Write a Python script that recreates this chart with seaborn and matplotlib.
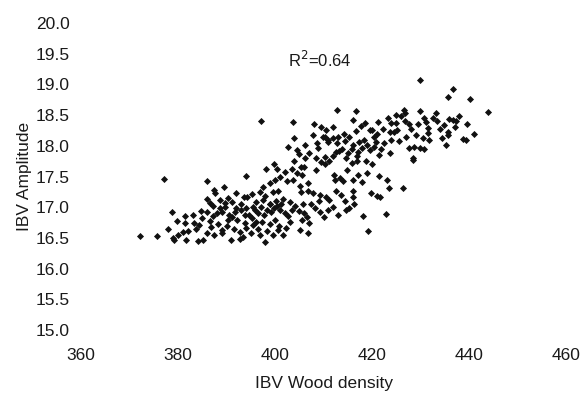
import matplotlib
matplotlib.use("Agg")
import matplotlib.pyplot as plt
import seaborn as sns
import pandas as pd

wood_density = [
    377.1, 385.9, 389.4, 394.1, 387.7, 387.5, 392.0, 393.5, 385.9, 386.5, 389.6, 391.1,
    387.3, 388.6, 389.6, 391.9, 394.1, 395.5,
    378.8, 381.4, 384.7, 379.7, 381.5, 383.3, 384.4, 386.5, 387.2, 378.0, 383.8, 381.0,
    372.1, 375.6, 378.9, 379.1, 381.6, 384.1, 385.2, 385.9, 387.4, 389.0, 389.1, 391.0,
    392.7, 393.3, 392.7, 394.1, 392.1, 391.2, 390.2,
    398.1, 399.7, 400.4, 405.4, 404.6, 405.6, 408.5, 409.5, 411.2, 410.4, 415.8, 416.8,
    418.8, 412.2, 413.4, 414.0, 412.4, 417.0, 418.0, 402.5, 403.8, 406.8, 405.2, 398.9,
    397.5, 399.5, 400.6, 405.3, 406.8, 407.8, 409.3, 410.6, 412.6, 413.6, 416.0, 416.0,
    416.3, 419.8, 395.2, 394.3, 401.6, 403.0, 405.7, 411.2,
    397.5, 398.9, 399.8, 398.4, 400.5, 399.2, 397.2, 401.0, 396.0,
    395.8, 394.7, 395.3, 402.0, 402.7, 405.0, 406.0, 406.6, 409.2, 410.0, 410.9, 414.6,
    415.3, 418.1, 396.0, 397.4, 399.0, 400.0, 403.0, 405.5, 407.0, 395.5, 400.6, 401.6,
    405.1, 406.8, 396.8, 397.9, 419.1,
    428.4, 421.5, 423.1, 423.4, 426.3, 421.1, 421.7, 422.9,
    397.2, 403.8, 412.7, 416.6, 416.0, 410.6, 410.3, 411.0, 409.8, 411.9, 418.6, 419.5,
    407.8, 404.0, 402.7, 404.6, 405.0, 408.6, 408.9, 407.1, 410.9, 412.8, 413.1, 414.3,
    415.3, 416.6, 417.4, 416.0, 418.0, 410.2, 411.9, 414.7, 416.8, 419.5, 406.1, 408.5,
    429.8, 436.6, 435.6, 440.2, 443.8, 433.2, 433.4, 435.9, 436.6, 437.3, 439.6, 434.9,
    435.6, 435.7, 434.5, 435.2, 438.8, 439.3, 429.8, 430.8, 431.1, 431.5, 431.5, 429.4,
    427.7, 426.5, 426.8, 426.0, 425.0, 423.2, 421.2, 422.2, 423.8, 425.0, 426.7, 423.6,
    424.6, 425.2, 428.0, 429.0, 430.4, 431.8, 425.6, 421.9, 423.6, 427.7, 428.7, 429.8,
    430.8, 428.4, 420.5, 420.9, 420.5, 421.1,
    388.0, 389.0, 390.5, 391.8, 393.0, 393.8, 396.5, 397.8, 399.0, 400.2, 401.3, 398.0,
    396.8, 393.0, 390.3, 388.7, 386.0, 385.0, 383.0, 382.0, 380.0, 386.8, 388.3, 390.0,
    391.5, 393.8, 395.0, 396.5, 398.3, 399.5, 400.8, 402.3, 403.5, 404.2, 407.5, 408.3,
    409.0, 412.0, 413.0, 414.5,
    412.5, 413.8, 415.0, 415.8, 417.0, 418.3, 419.0, 414.5, 413.0, 412.0, 409.5, 408.0,
    406.2, 404.0, 406.0, 403.5, 402.0, 401.0, 400.0, 414.8, 416.0, 419.0, 420.0, 421.5,
    422.5, 424.0, 427.0, 432.5, 434.0, 437.0, 438.0, 441.0, 420.0, 417.8,
]

amplitude = [
    17.46, 17.42, 17.33, 17.51, 17.23, 17.28, 17.23, 17.17, 17.13, 17.07, 17.07, 17.08,
    17.02, 16.98, 17.00, 16.98, 16.98, 17.00,
    16.93, 16.85, 16.94, 16.78, 16.74, 16.75, 16.71, 16.78, 16.85, 16.64, 16.64, 16.59,
    16.53, 16.53, 16.50, 16.46, 16.47, 16.45, 16.47, 16.58, 16.55, 16.58, 16.63, 16.47,
    16.48, 16.52, 16.60, 16.66, 16.79, 16.84, 16.79,
    17.63, 17.70, 17.63, 17.66, 17.56, 17.52, 17.60, 17.74, 17.76, 17.70, 17.72, 17.76,
    17.76, 17.53, 17.47, 17.42, 17.45, 17.52, 17.41, 17.42, 17.44, 17.40, 17.35, 17.39,
    17.33, 17.25, 17.27, 17.25, 17.27, 17.23, 17.20, 17.16, 17.26, 17.20, 17.27, 17.16,
    17.06, 17.23, 17.22, 17.17, 17.14, 17.09, 17.06, 17.12,
    17.12, 17.05, 16.99, 16.96, 17.02, 16.92, 17.00, 16.95, 17.08,
    16.95, 16.88, 16.82, 16.91, 16.85, 16.94, 16.90, 16.84, 16.92, 16.84, 16.95, 16.96,
    16.99, 16.85, 16.76, 16.76, 16.73, 16.79, 16.76, 16.79, 16.75, 16.71, 16.63, 16.55,
    16.63, 16.58, 16.55, 16.44, 16.62,
    17.77, 17.51, 17.45, 17.31, 17.31, 17.18, 17.16, 16.89,
    18.41, 18.39, 18.59, 18.56, 18.42, 18.26, 18.15, 18.07, 18.14, 18.12, 18.38, 18.26,
    18.17, 18.12, 17.98, 17.93, 17.86, 18.05, 17.97, 17.89, 18.09, 18.04, 17.92, 18.20,
    18.14, 18.24, 18.06, 18.02, 17.96, 17.82, 17.84, 17.81, 17.83, 17.93, 17.80, 17.80,
    19.07, 18.92, 18.80, 18.76, 18.55, 18.53, 18.40, 18.44, 18.42, 18.41, 18.35, 18.34,
    18.22, 18.17, 18.12, 18.01, 18.11, 18.09, 18.56, 18.46, 18.39, 18.29, 18.21, 18.36,
    18.36, 18.58, 18.53, 18.48, 18.50, 18.45, 18.39, 18.28, 18.37, 18.37, 18.40, 18.23,
    18.23, 18.25, 18.28, 18.17, 18.12, 18.09, 18.08, 17.95, 17.89, 17.97, 17.98, 17.97,
    17.95, 17.81, 18.14, 18.06, 17.98, 18.20,
    16.90, 16.93, 16.88, 16.92, 16.95, 16.88, 16.90, 16.87, 17.05, 17.10, 17.05, 17.18,
    17.25, 17.05, 17.15, 17.12, 16.92, 16.83, 16.88, 16.62, 16.55, 16.68, 16.72, 16.70,
    16.65, 16.75, 16.58, 16.65, 16.62, 16.55, 16.70, 16.66, 16.95, 17.02, 17.05, 16.98,
    17.10, 17.00, 16.88, 17.10,
    17.90, 17.95, 17.88, 17.95, 17.90, 18.10, 18.02, 18.08, 18.15, 18.30, 18.30, 18.35,
    18.02, 17.75, 17.65, 17.62, 17.58, 17.50, 17.45, 17.60, 17.45, 17.55, 17.70, 17.85,
    18.05, 18.10, 18.15, 18.45, 18.28, 18.30, 18.48, 18.20, 18.25, 18.32,
]

x_ticks = [360, 380, 400, 420, 440, 460]
y_ticks = [15.0, 15.5, 16.0, 16.5, 17.0, 17.5, 18.0, 18.5, 19.0, 19.5, 20.0]
r2_text = "R$^2$=0.64"

df = pd.DataFrame({"IBV Wood density": wood_density, "IBV Amplitude": amplitude})

sns.set_style("white")
plt.rcParams["font.family"] = ["Liberation Sans", "DejaVu Sans"]

fig = plt.figure(figsize=(5.81, 3.93), dpi=100)
ax = fig.add_axes([0.1394, 0.160, 0.835, 0.7815])

sns.scatterplot(data=df, x="IBV Wood density", y="IBV Amplitude", ax=ax,
                marker="D", s=13, color="#111111", linewidth=0)

ax.set_xlim(360, 460)
ax.set_ylim(15.0, 20.0)
ax.set_xticks(x_ticks)
ax.set_xticklabels([str(t) for t in x_ticks])
ax.set_yticks(y_ticks)
ax.set_yticklabels([f"{t:.1f}" for t in y_ticks])
ax.tick_params(axis="both", length=0, labelsize=12.5, colors="#1a1a1a")
ax.tick_params(axis="x", pad=13)
ax.tick_params(axis="y", pad=8)
for s in ax.spines.values():
    s.set_visible(False)
ax.grid(False)

ax.set_xlabel("IBV Wood density", fontsize=12.5, color="#1a1a1a", labelpad=9)
ax.set_ylabel("IBV Amplitude", fontsize=12.5, color="#1a1a1a", labelpad=3)

ax.text(402.6, 19.40, r2_text, fontsize=12, color="#1a1a1a", ha="left", va="center")

fig.savefig("out.png", dpi=100)
